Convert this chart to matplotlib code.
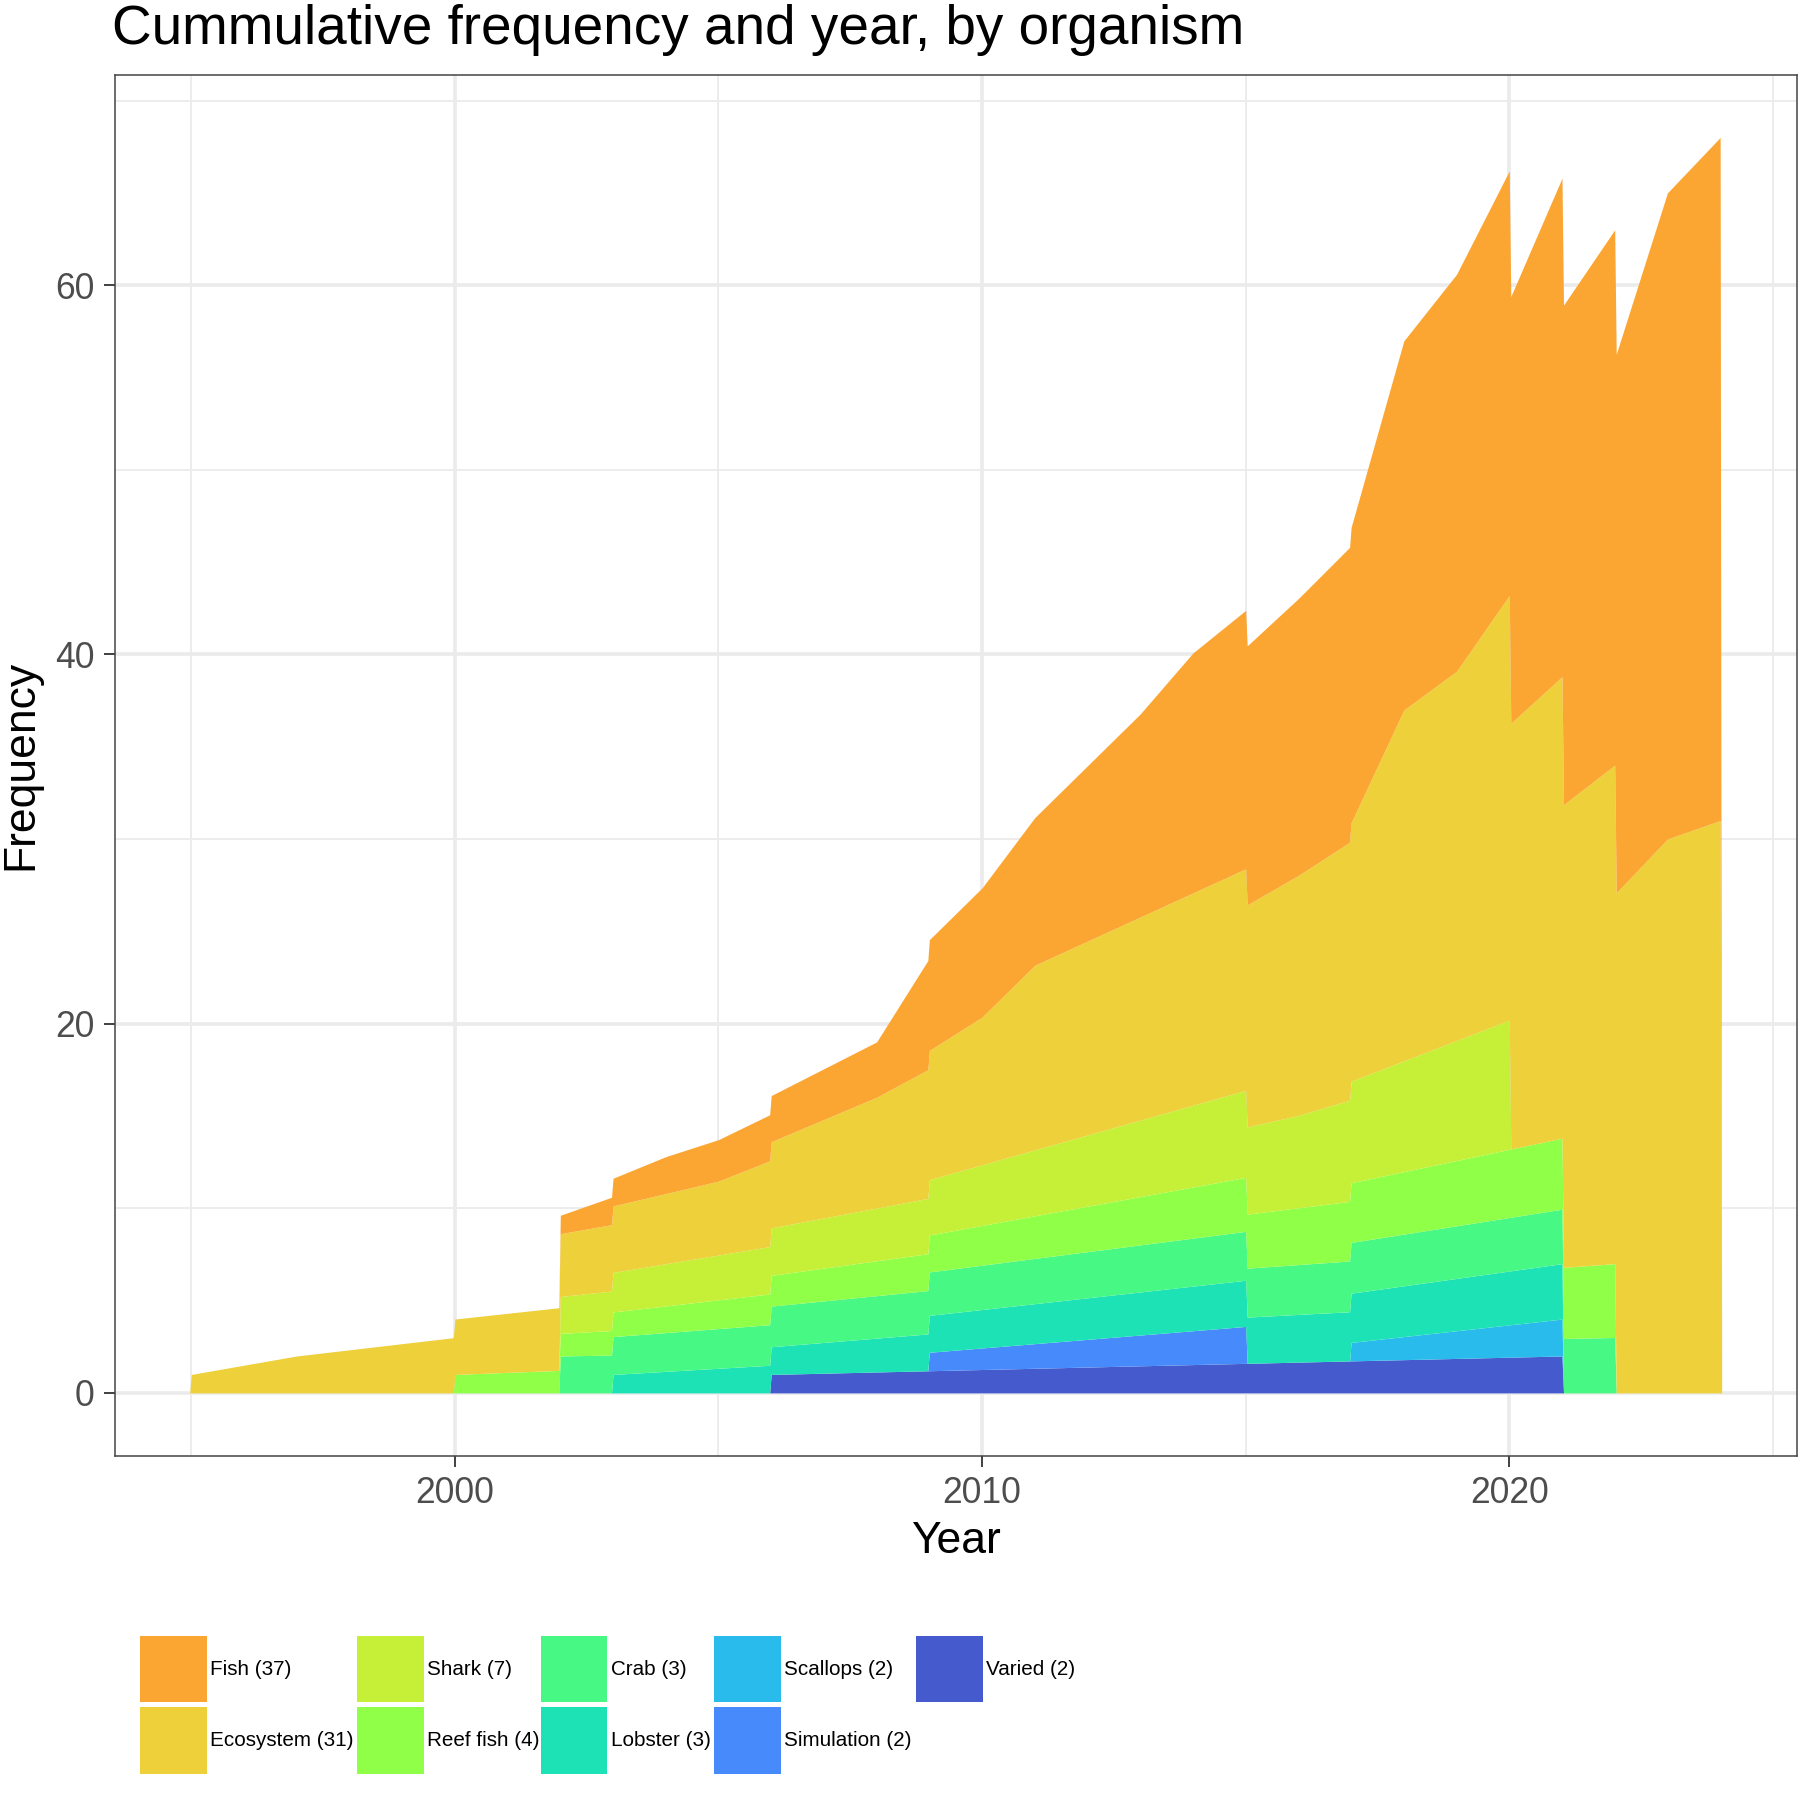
import numpy as np
import matplotlib.pyplot as plt
from matplotlib.patches import Rectangle

plt.rcParams['font.family'] = ['Liberation Sans', 'DejaVu Sans']

# organisms, top of the stack first
organisms = ["Fish", "Ecosystem", "Shark", "Reef fish", "Crab",
             "Lobster", "Scallops", "Simulation", "Varied"]
counts = [37, 31, 7, 4, 3, 3, 2, 2, 2]
colors = ["#FBA633", "#EDD03A", "#C5F037", "#8FFF48", "#47F884",
          "#1CE2B6", "#29BBEC", "#468AFC", "#455BCD"]

# cumulative frequency per organism (year, value)
fish_years = [2002, 2004, 2008, 2009, 2010, 2011, 2013, 2014, 2015, 2016,
              2017, 2018, 2020, 2021, 2022, 2023, 2024]
fish_freq = [1, 2, 3, 6, 7, 8, 11, 13, 14, 15, 16, 20, 23, 27, 29, 35, 37]
eco_years = [1995, 1997, 2000, 2005, 2008, 2009, 2010, 2011, 2015, 2016,
             2017, 2018, 2019, 2020, 2021, 2022, 2023, 2024]
eco_freq = [1, 2, 3, 4, 6, 7, 8, 10, 12, 13, 14, 19, 20, 23, 25, 27, 30, 31]
shark_years = [2002, 2009, 2016, 2020]
shark_freq = [2, 3, 5, 7]
reef_years = [2000, 2009, 2022]
reef_freq = [1, 2, 4]
crab_years = [2002, 2022]
crab_freq = [2, 3]
lobster_years = [2003, 2009, 2021]
lobster_freq = [1, 2, 3]
scallops_years = [2017, 2021]
scallops_freq = [1, 2]
sim_years = [2009, 2015]
sim_freq = [1, 2]
varied_years = [2006, 2021]
varied_freq = [1, 2]

series = [(fish_years, fish_freq), (eco_years, eco_freq),
          (shark_years, shark_freq), (reef_years, reef_freq),
          (crab_years, crab_freq), (lobster_years, lobster_freq),
          (scallops_years, scallops_freq), (sim_years, sim_freq),
          (varied_years, varied_freq)]

# align all groups on a common x grid (like ggplot's stat_align)
all_x = np.unique(np.concatenate([np.array(s[0], float) for s in series]))
adjust = min(np.ptp(all_x) * 0.001, np.min(np.diff(all_x)) / 3)
grid = np.unique(np.concatenate([all_x - adjust, all_x, all_x + adjust]))


def aligned(years, freq):
    years = np.asarray(years, float)
    t = np.interp(grid, years, np.asarray(freq, float))
    t[(grid < years.min()) | (grid > years.max())] = 0.0
    return t


fig = plt.figure(figsize=(18, 18), dpi=100)
ax = fig.add_axes([0.0638, 0.1913, 0.9343, 0.7672])

base = np.zeros_like(grid)
for name, (yrs, fr), col in reversed(list(zip(organisms, series, colors))):
    t = aligned(yrs, fr)
    ax.fill_between(grid, base, base + t, color=col, linewidth=0, zorder=2)
    base = base + t

ax.set_xlim(1993.55, 2025.45)
ax.set_ylim(-3.4, 71.4)
ax.set_xticks([2000, 2010, 2020])
ax.set_xticks([1995, 2005, 2015, 2025], minor=True)
ax.set_yticks([0, 20, 40, 60])
ax.set_yticks([10, 30, 50, 70], minor=True)
ax.grid(which='major', color='#EBEBEB', linewidth=2.6, zorder=0)
ax.grid(which='minor', color='#EBEBEB', linewidth=1.3, zorder=0)
ax.set_axisbelow(True)
for sp in ax.spines.values():
    sp.set_color('#444444')
    sp.set_linewidth(1.1)
ax.tick_params(which='major', length=8, width=1.3, color='#333333',
               labelsize=25.6, labelcolor='#4D4D4D', pad=6.4)
ax.tick_params(which='minor', length=0)

fig.text(0.0625, 0.9755, "Cummulative frequency and year, by organism",
         fontsize=39.5, ha='left', va='baseline', color='black')
fig.text(0.531, 0.1435, "Year", fontsize=32, ha='center', va='center')
fig.text(0.0115, 0.575, "Frequency", fontsize=32, ha='center', va='center',
         rotation=90)

# legend, two rows filled column by column
key = 58 / 1568
col_x = [122 / 1568, 311 / 1568, 471 / 1568, 622 / 1568, 798 / 1568]
row_top = [1 - 1425 / 1568, 1 - 1487 / 1568]
for i, (name, n, col) in enumerate(zip(organisms, counts, colors)):
    x0 = col_x[i // 2]
    y0 = row_top[i % 2] - key
    fig.patches.append(Rectangle((x0, y0), key, key, transform=fig.transFigure,
                                 facecolor=col, edgecolor='none'))
    fig.text(x0 + key + 3 / 1568, y0 + key / 2, f"{name} ({n})",
             fontsize=14.9, ha='left', va='center')

fig.savefig("out.png", dpi=100)
